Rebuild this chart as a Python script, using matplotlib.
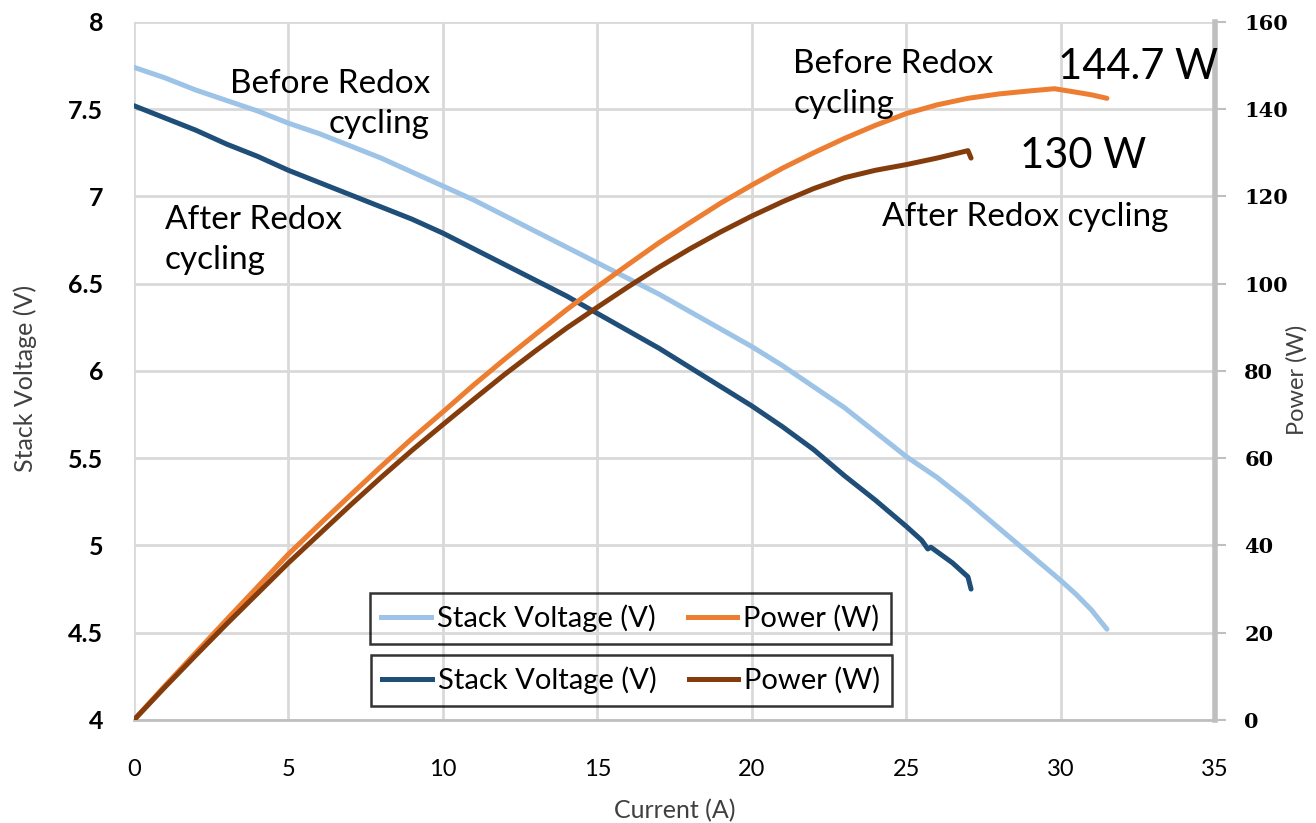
import numpy as np
import matplotlib
matplotlib.use("Agg")
import matplotlib.pyplot as plt
from matplotlib.lines import Line2D

plt.rcParams['font.family'] = ['Lato', 'DejaVu Sans']

# stack test before redox cycling
current_before = [0, 1, 2, 3, 4, 5, 6, 7, 8, 9, 10, 11, 12, 13, 14, 15, 16, 17, 18, 19,
                  20, 21, 22, 23, 24, 25, 26, 27, 28, 29, 30, 30.5, 31, 31.5]
voltage_before = [7.74, 7.68, 7.61, 7.55, 7.49, 7.42, 7.36, 7.29, 7.22, 7.14, 7.06, 6.98,
                  6.89, 6.80, 6.71, 6.62, 6.53, 6.44, 6.34, 6.24, 6.14, 6.03, 5.91, 5.79,
                  5.65, 5.51, 5.39, 5.25, 5.10, 4.95, 4.80, 4.72, 4.63, 4.52]
pcurrent_before = [0, 1, 2, 3, 4, 5, 6, 7, 8, 9, 10, 11, 12, 13, 14, 15, 16, 17, 18, 19,
                   20, 21, 22, 23, 24, 25, 26, 27, 28, 29, 29.8, 30.5, 31, 31.5]
power_before = [0, 7.8, 15.4, 23.0, 30.5, 38.0, 44.8, 51.5, 58.1, 64.5, 70.6, 76.8, 82.7,
                88.4, 94.0, 99.3, 104.4, 109.4, 114.0, 118.5, 122.6, 126.5, 130.0, 133.3,
                136.3, 139.0, 141.0, 142.5, 143.5, 144.2, 144.7, 143.9, 143.3, 142.5]

# stack test after redox cycling
current_after = [0, 1, 2, 3, 4, 5, 6, 7, 8, 9, 10, 11, 12, 13, 14, 15, 16, 17, 18, 19,
                 20, 21, 22, 23, 24, 25, 25.5, 25.7, 25.8, 26.5, 27.0, 27.1]
voltage_after = [7.52, 7.45, 7.38, 7.30, 7.23, 7.15, 7.08, 7.01, 6.94, 6.87, 6.79, 6.70,
                 6.61, 6.52, 6.43, 6.33, 6.23, 6.13, 6.02, 5.91, 5.80, 5.68, 5.55, 5.40,
                 5.26, 5.11, 5.03, 4.98, 4.99, 4.90, 4.82, 4.75]
pcurrent_after = [0, 1, 2, 3, 4, 5, 6, 7, 8, 9, 10, 11, 12, 13, 14, 15, 16, 17, 18, 19,
                  20, 21, 22, 23, 24, 25, 26, 27, 27.1]
power_after = [0, 7.5, 14.8, 22.0, 29.0, 36.0, 42.6, 49.2, 55.6, 61.8, 67.7, 73.5, 79.2,
               84.6, 89.8, 94.6, 99.3, 103.8, 108.0, 111.9, 115.5, 118.8, 121.8, 124.3,
               126.0, 127.3, 128.8, 130.5, 128.8]

c_vb = '#9dc3e6'
c_va = '#1f4e79'
c_pb = '#ed7d31'
c_pa = '#843c0c'
grid_c = '#d9d9d9'
lw = 3.6

fig = plt.figure(figsize=(13.16, 8.23), dpi=100)
ax = fig.add_axes([0.1018, 0.1252, 0.8215, 0.8481])
ax2 = ax.twinx()

ax.plot(current_before, voltage_before, color=c_vb, lw=lw, solid_capstyle='round',
        solid_joinstyle='round', zorder=3)
ax.plot(current_after, voltage_after, color=c_va, lw=lw, solid_capstyle='round',
        solid_joinstyle='round', zorder=3)
ax2.plot(pcurrent_before, power_before, color=c_pb, lw=lw, solid_capstyle='round',
         solid_joinstyle='round', zorder=3)
ax2.plot(pcurrent_after, power_after, color=c_pa, lw=lw, solid_capstyle='round',
         solid_joinstyle='round', zorder=3)

ax.set_xlim(0, 35)
ax.set_ylim(4, 8)
ax2.set_ylim(0, 160)
ax.set_xticks(np.arange(0, 36, 5))
ax.set_yticks(np.arange(4, 8.01, 0.5))
ax.set_yticklabels(['4', '4.5', '5', '5.5', '6', '6.5', '7', '7.5', '8'])
ax2.set_yticks(np.arange(0, 161, 20))

ax.grid(True, color=grid_c, lw=2)
ax.set_axisbelow(True)
for s in ['top', 'left', 'right']:
    ax.spines[s].set_visible(False)
for s in ['top', 'left', 'bottom']:
    ax2.spines[s].set_visible(False)
ax.spines['bottom'].set_color('#bfbfbf')
ax.spines['bottom'].set_linewidth(2)
ax2.spines['right'].set_color('#bfbfbf')
ax2.spines['right'].set_linewidth(4)

ax.tick_params(axis='y', length=0, pad=22, labelsize=18)
for t in ax.get_yticklabels():
    t.set_fontweight('bold')
ax.tick_params(axis='x', length=0, pad=28, labelsize=17)
ax2.tick_params(axis='y', length=8, width=1.5, color='#bfbfbf', pad=13, labelsize=15)
for t in ax2.get_yticklabels():
    t.set_fontweight('bold')
    t.set_family('DejaVu Serif')

ax.set_xlabel('Current (A)', fontsize=18, color='#404040', labelpad=14)
ax.set_ylabel('Stack Voltage (V)', fontsize=18, color='#404040')
ax.yaxis.set_label_coords(-0.09, 0.49)
ax2.set_ylabel('Power (W)', fontsize=17, color='#404040')
ax2.yaxis.set_label_coords(1.066, 0.487)

# curve annotations, drawn on top of the right axis
fs = 24
tr = ax.transData
ax2.text(9.58, 7.53, 'Before Redox\ncycling', fontsize=fs, ha='right', va='center',
         multialignment='right', linespacing=1.45, transform=tr)
ax2.text(1.0, 6.75, 'After Redox\ncycling', fontsize=fs, ha='left', va='center',
         linespacing=1.45, transform=tr)
ax2.text(21.34, 7.645, 'Before Redox\ncycling', fontsize=fs, ha='left', va='center',
         linespacing=1.45, transform=tr)
ax2.text(24.22, 6.88, 'After Redox cycling', fontsize=fs, ha='left', va='center', transform=tr)
ax2.text(29.92, 7.74, '144.7 W', fontsize=30, ha='left', va='center', transform=tr)
ax2.text(28.69, 7.23, '130 W', fontsize=30, ha='left', va='center', transform=tr)

# two separate legends, one per test
def add_legend(handles, x, y):
    leg = ax2.legend(handles=handles, labels=['Stack Voltage (V)', 'Power (W)'],
                     loc='center', bbox_to_anchor=(x, y), ncol=2, fontsize=21,
                     frameon=True, fancybox=False, facecolor='none', edgecolor='black',
                     handlelength=1.7, handletextpad=0.2, columnspacing=1.1,
                     borderpad=0.4)
    leg.get_frame().set_linewidth(1.8)
    return leg

h_b = [Line2D([], [], color=c_vb, lw=lw), Line2D([], [], color=c_pb, lw=lw)]
h_a = [Line2D([], [], color=c_va, lw=lw), Line2D([], [], color=c_pa, lw=lw)]
leg1 = add_legend(h_b, 0.459, 0.146)
ax2.add_artist(leg1)
add_legend(h_a, 0.460, 0.057)

fig.savefig('out.png', dpi=100)
